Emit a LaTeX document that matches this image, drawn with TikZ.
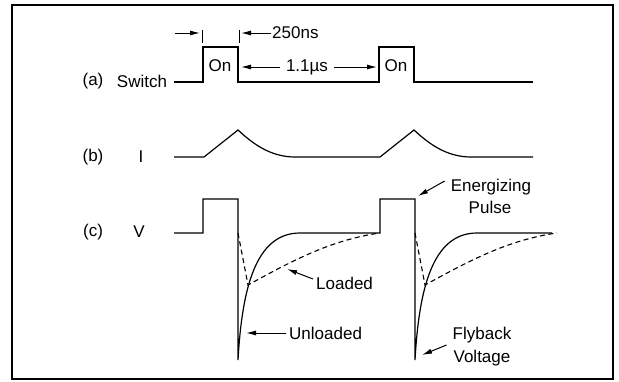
\documentclass[tikz,border=0pt]{standalone}
\usepackage{fontspec}
\setmainfont{Liberation Sans}
\usetikzlibrary{arrows.meta}

\tikzset{
  wave/.style={line width=1.2pt},
  loadcurve/.style={line width=1.1pt, dash pattern=on 5pt off 3.5pt},
  txt/.style={inner sep=1pt, font=\fontsize{17}{20}\selectfont},
  pointer/.style={-{Latex[length=10pt,width=5pt]}, line width=1pt}
}

\begin{document}
\begin{tikzpicture}[x=1pt,y=-1pt]
    \useasboundingbox (0,0) rectangle (619,381);
    \draw[line width=2pt] (12,5) rectangle (613,379);

    % row labels
    \node[txt] (la) at (93,81) {(a)};
    \node[txt] (lswitch) at (142,81) {Switch};
    \node[txt] (lb) at (93,157) {(b)};
    \node[txt] (lcur) at (141,157) {I};
    \node[txt] (lc) at (93,232) {(c)};
    \node[txt] (lvolt) at (139,232) {V};

    % (a) switch
    \draw[wave] (174,82) -- (203,82) -- (203,47) -- (238,47) -- (238,82) -- (379,82)
        -- (379,47) -- (414,47) -- (414,82) -- (533,82);
    \node[txt] (on1) at (220,66) {On};
    \node[txt] (on2) at (396,66) {On};
    \draw[line width=0.8pt] (202,30) -- (202,43);
    \draw[line width=0.8pt] (239,30) -- (239,43);
    \node[txt, anchor=west] (t250) at (271,33) {250ns};
    \coordinate (w1) at (175,33);
    \coordinate (w2) at (200,33);
    \coordinate (w3) at (241,33);
    \draw[pointer] (w1) -- (w2);
    \draw[pointer] (t250.west) -- (w3);
    \node[txt] (tgap) at (307,67) {1.1µs};
    \coordinate (g1) at (241,67);
    \coordinate (g2) at (377,67);
    \draw[pointer] ([xshift=-5pt]tgap.west) -- (g1);
    \draw[pointer] ([xshift=5pt]tgap.east) -- (g2);

    % (b) current
    \draw[wave] (174,157) -- (204,157) -- (238,130) .. controls (252,143) and (270,157) .. (295,157)
        -- (380,157) -- (414,130) .. controls (428,143) and (446,157) .. (471,157) -- (533,157);

    % (c) voltage
    \draw[wave] (174,233) -- (203,233) -- (203,199) -- (238,199) -- (238,360)
        .. controls (242,290) and (255,233) .. (300,233) -- (380,233) -- (380,199) -- (415,199)
        -- (415,360) .. controls (419,290) and (432,233) .. (477,233) -- (552,233);
    \draw[loadcurve] (238,233) -- (248,285) .. controls (290,262) and (330,240) .. (380,233);
    \draw[loadcurve] (415,233) -- (425,285) .. controls (467,262) and (507,240) .. (557,233);

    % callouts
    \node[txt] (energ) at (491,187) {Energizing};
    \node[txt] (pulse) at (490,207) {Pulse};
    \coordinate (eptip) at (418,196);
    \draw[pointer] ([shift={(-5pt,6pt)}]energ.west) -- (eptip);
    \node[txt, anchor=west] (loaded) at (315,283) {Loaded};
    \coordinate (ldtip) at (287,269);
    \draw[pointer] ([shift={(-2pt,4pt)}]loaded.west) -- (ldtip);
    \node[txt, anchor=west] (unloaded) at (288,333) {Unloaded};
    \coordinate (ultip) at (246,333);
    \draw[pointer] ([xshift=-2pt]unloaded.west) -- (ultip);
    \node[txt] (flyb) at (482,335) {Flyback};
    \node[txt] (volt) at (482,358) {Voltage};
    \coordinate (fbtip) at (422,355);
    \draw[pointer] ([shift={(-5pt,-10pt)}]flyb.west) -- (fbtip);
\end{tikzpicture}
\end{document}
